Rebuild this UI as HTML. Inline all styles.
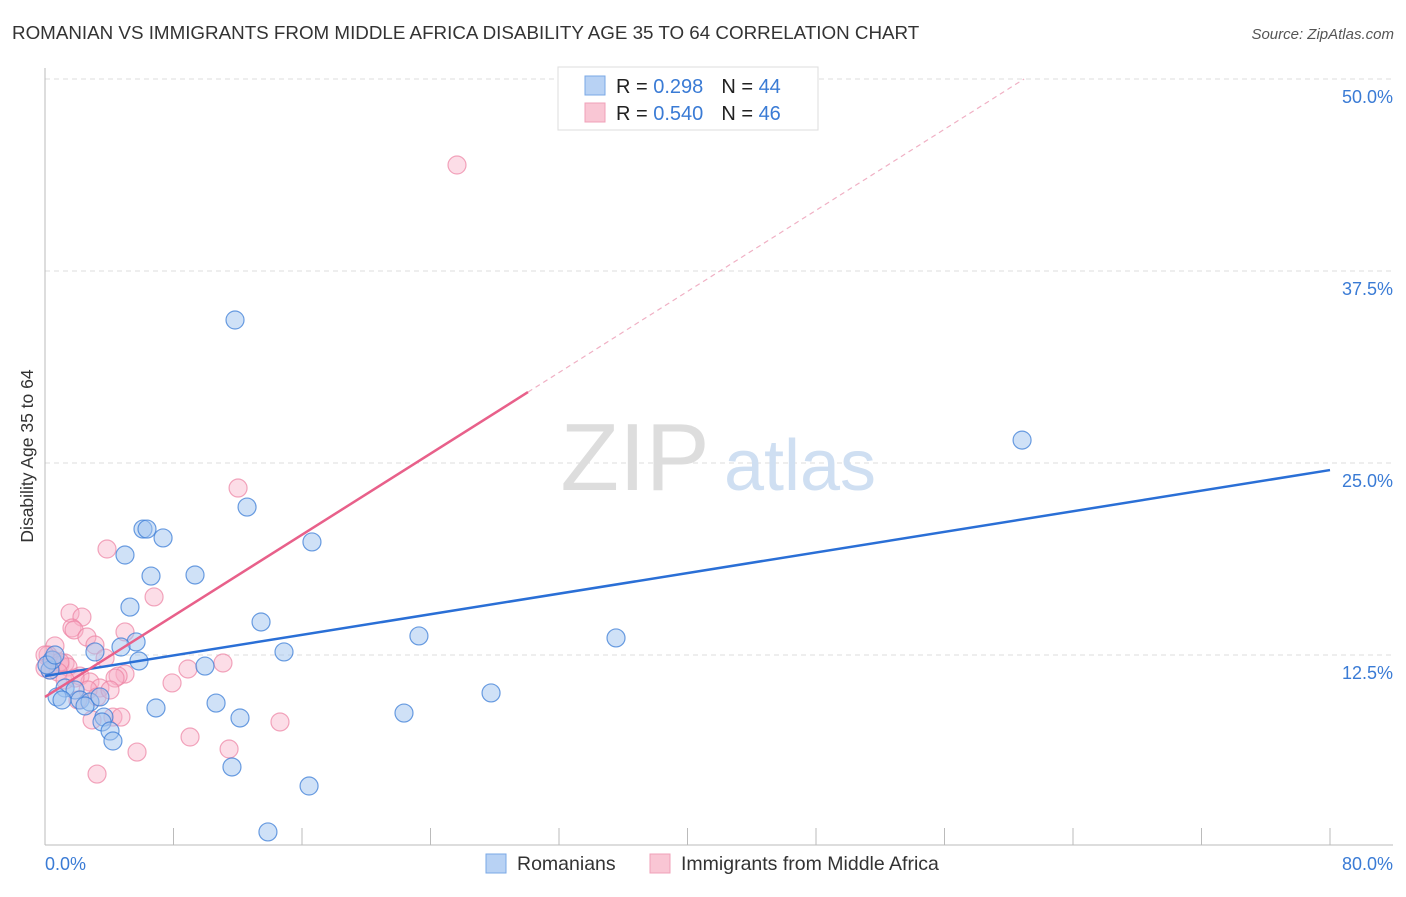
<!DOCTYPE html>
<html><head><meta charset="utf-8"><style>
body{margin:0;background:#fff;font-family:"Liberation Sans",sans-serif;}
svg text{font-family:"Liberation Sans",sans-serif;}
</style></head><body>
<svg id="chart" width="1406" height="892" xmlns="http://www.w3.org/2000/svg">
<text x="12" y="39" font-size="18.8" fill="#333">ROMANIAN VS IMMIGRANTS FROM MIDDLE AFRICA DISABILITY AGE 35 TO 64 CORRELATION CHART</text>
<text x="1394" y="39" font-size="15" fill="#555" font-style="italic" text-anchor="end">Source: ZipAtlas.com</text>
<g id="grid"></g>
<g>
<text x="635" y="490" font-size="96" fill="#ddd" font-family="Liberation Serif" text-anchor="middle">ZIP</text>
<text x="800" y="490" font-size="72" fill="#cfdff2" text-anchor="middle">atlas</text>
</g>
<line x1="45" y1="68" x2="45" y2="845" stroke="#bbb"/>
<line x1="45" y1="845" x2="1393" y2="845" stroke="#bbb"/>
<g id="xticks"></g>
<g id="ylabels"></g>
<text x="45" y="870" font-size="18" fill="#3a7bd5">0.0%</text>
<text x="1393" y="870" font-size="18" fill="#3a7bd5" text-anchor="end">80.0%</text>
<text transform="translate(33,456) rotate(-90)" font-size="17.5" fill="#333" text-anchor="middle">Disability Age 35 to 64</text>
<g id="pink"></g>
<g id="blue"></g>
<g id="trends"></g>
<g>
<rect x="558" y="67" width="260" height="63" fill="#fff" stroke="#ddd"/>
<rect x="585" y="76" width="20" height="19" fill="#b8d2f4" stroke="#7aa8e6"/>
<rect x="585" y="103" width="20" height="19" fill="#f9c6d4" stroke="#f0a0b8"/>
<text x="616" y="93" font-size="20" fill="#222">R = <tspan fill="#3a7bd5"> 0.298</tspan><tspan dx="18">N = </tspan><tspan fill="#3a7bd5">44</tspan></text>
<text x="616" y="120" font-size="20" fill="#222">R = <tspan fill="#3a7bd5">0.540</tspan><tspan dx="18">N = </tspan><tspan fill="#3a7bd5">46</tspan></text>
</g>
<g>
<rect x="486" y="854" width="20" height="19" fill="#b8d2f4" stroke="#7aa8e6"/>
<text x="517" y="870" font-size="19.5" fill="#333">Romanians</text>
<rect x="650" y="854" width="20" height="19" fill="#f9c6d4" stroke="#f0a0b8"/>
<text x="681" y="870" font-size="19.5" fill="#333">Immigrants from Middle Africa</text>
</g>
</svg>
<script>
const blueX=[11.83,60.83,12.58,6.10,6.35,7.35,16.62,4.98,6.60,9.34,5.29,13.45,23.28,35.55,5.67,4.73,14.88,5.85,9.96,3.11,1.25,1.87,0.75,1.06,27.77,2.18,2.80,10.65,6.91,22.35,12.14,3.67,3.55,4.05,4.23,11.64,16.44,13.88,0.31,0.44,0.12,0.62,2.49,3.42];
const blueY=[34.31,26.49,22.13,20.70,20.70,20.12,19.86,19.01,17.64,17.71,15.62,14.65,13.74,13.61,13.35,13.02,12.70,12.11,11.78,12.70,10.35,10.22,9.77,9.57,10.03,9.57,9.44,9.37,9.05,8.72,8.40,8.46,8.14,7.55,6.90,5.21,3.97,0.98,11.52,12.17,11.85,12.50,9.18,9.77];
const pinkX=[25.65,12.02,3.86,6.79,1.56,2.30,1.68,1.81,4.98,2.61,3.11,0.62,0.19,0.50,0.93,1.25,1.43,0.31,3.74,2.18,2.80,4.98,4.55,4.36,8.90,11.08,7.91,3.42,2.68,3.24,1.87,2.93,4.23,4.73,14.63,9.03,11.46,5.73,3.24,0.93,0.00,0.81,1.25,0.0,4.05,2.05];
const pinkY=[44.40,23.37,19.40,16.28,15.23,14.97,14.26,14.13,14.00,13.67,13.15,13.09,12.50,12.17,11.85,11.98,11.72,11.52,12.30,11.13,10.74,11.26,11.13,11.00,11.59,11.98,10.68,10.35,10.22,9.77,11.00,8.27,8.46,8.46,8.14,7.16,6.38,6.18,4.75,12.04,12.50,11.39,10.87,11.65,10.22,9.57];
const yTicks=[12.5,25,37.5,50];
const yTickLabels=["12.5%","25.0%","37.5%","50.0%"];
const xTicks=[8,16,24,32,40,48,56,64,72,80];
const blueTrend=[11.13,24.54];
const pinkTrend=[9.77,0.66];
const pinkSolidEnd=30.07;

const NS="http://www.w3.org/2000/svg";
const sx=v=>45+v/80*1285;
const sy=v=>847-v/12.5*192;
function mk(tag,attrs,parent){const e=document.createElementNS(NS,tag);for(const k in attrs)e.setAttribute(k,attrs[k]);parent.appendChild(e);return e;}
const grid=document.getElementById('grid'),yl=document.getElementById('ylabels'),xt=document.getElementById('xticks');
yTicks.forEach((t,i)=>{
  const l=mk('line',{x1:45,x2:1393,y1:sy(t),y2:sy(t),stroke:'#ddd','stroke-dasharray':'5,4'},grid);
  
  
  const tx=mk('text',{x:1393,y:sy(t)+24,'font-size':18,fill:'#3a7bd5','text-anchor':'end'},yl);
  tx.textContent=yTickLabels[i];
  
  
});
xTicks.forEach(t=>{
  const l=mk('line',{x1:sx(t),x2:sx(t),y1:828,y2:845,stroke:'#bbb'},xt);
  
  
});
function pts(xs,ys,g,fill,stroke,name){
  xs.forEach((x,i)=>{
    const c=mk('circle',{cx:sx(x),cy:sy(ys[i]),r:9,fill:fill,stroke:stroke,'stroke-width':1.2},g);
    
    
  });
}
pts(pinkX,pinkY,document.getElementById('pink'),'rgba(248,175,198,0.42)','rgba(236,130,162,0.7)','immigrants-point');
pts(blueX,blueY,document.getElementById('blue'),'rgba(160,196,240,0.5)','rgba(60,125,215,0.75)','romanians-point');
const tr=document.getElementById('trends');
const b=mk('line',{x1:sx(0),y1:sy(blueTrend[0]),x2:sx(80),y2:sy(blueTrend[1]),stroke:'#2a6fd6','stroke-width':2.5},tr);


const pe=pinkTrend[0]+pinkTrend[1]*pinkSolidEnd;
const p=mk('line',{x1:sx(0),y1:sy(pinkTrend[0]),x2:sx(pinkSolidEnd),y2:sy(pe),stroke:'#e8608a','stroke-width':2.5},tr);


const xEnd=(50-pinkTrend[0])/pinkTrend[1];
const pd=mk('line',{x1:sx(pinkSolidEnd),y1:sy(pe),x2:sx(xEnd),y2:sy(50),stroke:'#f0b0c4','stroke-width':1.2,'stroke-dasharray':'5,4'},tr);


</script>
</body></html>
